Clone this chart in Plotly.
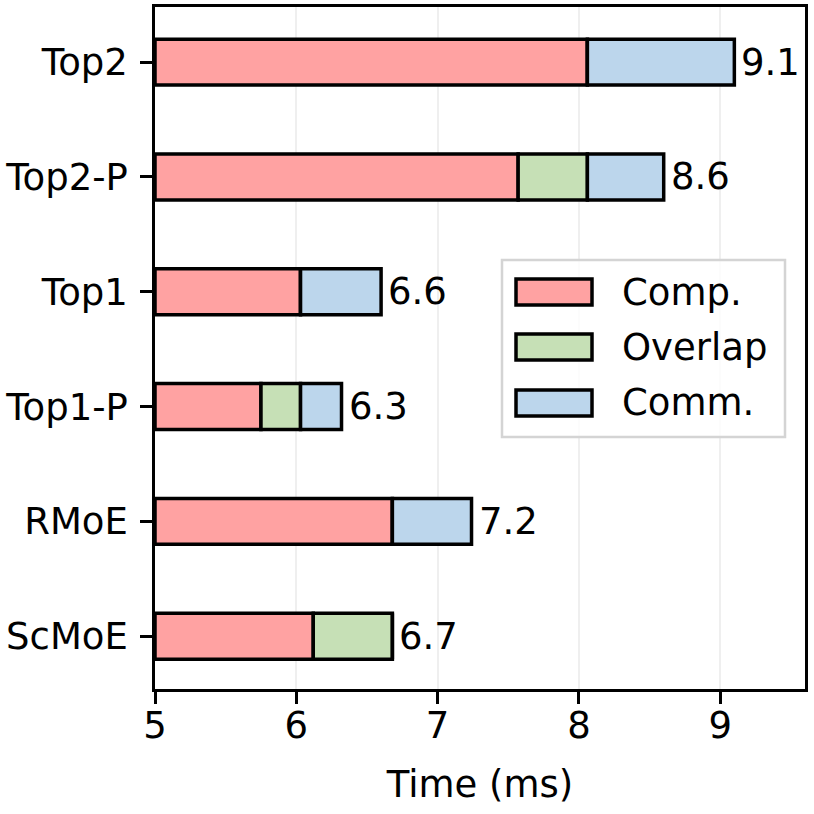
import plotly.graph_objects as go

categories = ["Top2", "Top2-P", "Top1", "Top1-P", "RMoE", "ScMoE"]
comp_end = [8.06, 7.57, 6.03, 5.75, 6.68, 6.12]
overlap_end = [8.06, 8.06, 6.03, 6.03, 6.68, 6.68]
total = [9.1, 8.6, 6.6, 6.32, 7.24, 6.68]
total_labels = ["9.1", "8.6", "6.6", "6.3", "7.2", "6.7"]
base_time = 5.0
x_ticks = [5, 6, 7, 8, 9]

series_names = ["Comp.", "Overlap", "Comm."]
series_colors = ["#ffa2a2", "#c6e0b6", "#bcd6ec"]

ypos = list(range(len(categories)))
starts = [[base_time] * len(categories), comp_end, overlap_end]
ends = [comp_end, overlap_end, total]

FONT = "DejaVu Sans"
FS = 37

fig = go.Figure()
for name, color, s, e in zip(series_names, series_colors, starts, ends):
    widths = [b - a for a, b in zip(s, e)]
    fig.add_trace(go.Bar(
        y=ypos, x=widths, base=s, orientation="h", name=name,
        marker=dict(color=color, line=dict(color="black", width=3.5)),
        width=0.4, showlegend=False,
    ))

for i, (t, lab) in enumerate(zip(total, total_labels)):
    fig.add_annotation(x=t, y=i, text=lab, showarrow=False, xanchor="left",
                       yanchor="middle", xshift=5, font=dict(family=FONT, size=FS, color="black"))

# custom legend (paper coordinates)
plot_l, plot_r, plot_t, plot_b = 155, 805, 7, 689
W = plot_r - plot_l
H = plot_b - plot_t
def px_x(p):
    return (p - plot_l) / W
def px_y(p):
    return (plot_b - p) / H

fig.add_shape(type="rect", xref="paper", yref="paper",
              x0=px_x(502), x1=px_x(785), y0=px_y(437), y1=px_y(260),
              line=dict(color="#d4d4d4", width=2.5), fillcolor="rgba(255,255,255,0.8)", layer="above")
row_y = [292, 347, 403]
for name, color, ry in zip(series_names, series_colors, row_y):
    fig.add_shape(type="rect", xref="paper", yref="paper",
                  x0=px_x(516), x1=px_x(592), y0=px_y(ry + 13), y1=px_y(ry - 13),
                  line=dict(color="black", width=3.5), fillcolor=color, layer="above")
    fig.add_annotation(xref="paper", yref="paper", x=px_x(620), y=px_y(ry), text=name,
                       showarrow=False, xanchor="left", yanchor="middle",
                       font=dict(family=FONT, size=FS, color="black"))

fig.update_layout(
    width=814, height=814,
    margin=dict(l=plot_l, r=814 - plot_r, t=plot_t, b=814 - plot_b, autoexpand=False),
    plot_bgcolor="white", paper_bgcolor="white",
    barmode="overlay", showlegend=False,
    font=dict(family=FONT, size=FS, color="black"),
)
fig.update_xaxes(
    range=[5, 9.6], tickvals=x_ticks, ticktext=[str(v) for v in x_ticks],
    showgrid=True, gridcolor="#efefef", gridwidth=2,
    showline=True, linecolor="black", linewidth=2.5, mirror=True,
    ticks="outside", ticklen=12, tickwidth=2.5, tickcolor="black",
    ticklabelstandoff=-10,
    title=dict(text="Time (ms)", font=dict(family=FONT, size=FS), standoff=25),
    tickfont=dict(family=FONT, size=FS), zeroline=False, automargin=False,
)
fig.update_yaxes(
    range=[5.46, -0.48], tickvals=ypos, ticktext=categories,
    showgrid=False, showline=True, linecolor="black", linewidth=2.5, mirror=True,
    ticks="outside", ticklen=12, tickwidth=2.5, tickcolor="black",
    ticklabelstandoff=5,
    tickfont=dict(family=FONT, size=FS), zeroline=False, automargin=False,
)

fig.write_html("out.html", config={"displayModeBar": False},
               post_script="document.body.style.margin='0';")
